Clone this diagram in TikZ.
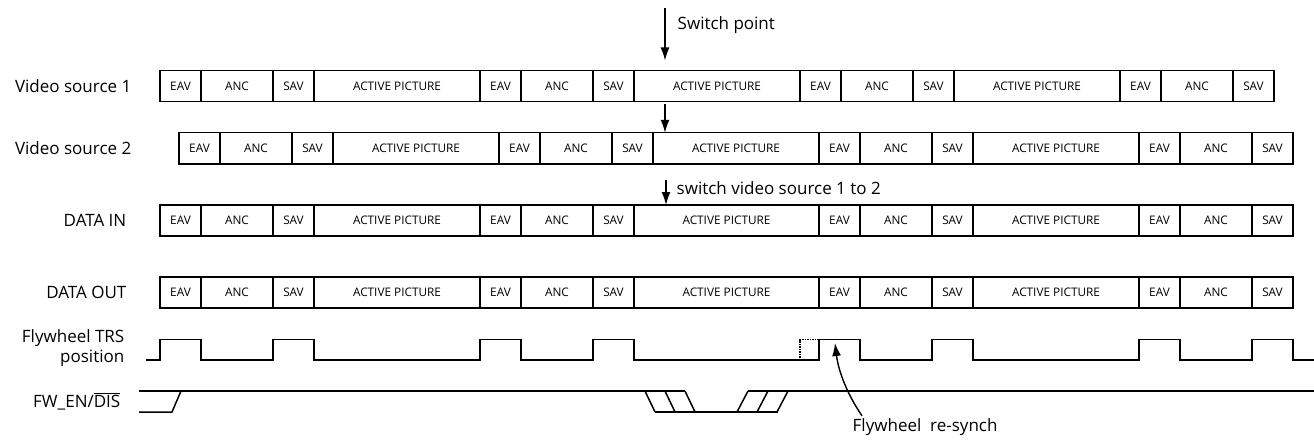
\documentclass[tikz,border=0pt]{standalone}
\usepackage{fontspec}
\setmainfont{Open Sans}
\usetikzlibrary{arrows.meta,positioning}
\tikzset{
    seg/.style={draw, rectangle, minimum height=31pt, inner sep=0pt, outer sep=0pt, font=\fontsize{11.8}{13}\selectfont},
    lbl/.style={inner sep=0pt, font=\fontsize{17}{20.5}\selectfont},
    arr/.style={-{Latex[length=13pt,width=9pt]}},
    sig/.style={line width=1.5pt}
}
% one row of the video stream: name, start, list of text/width
\newcommand{\framerow}[3]{%
  \coordinate (#1-0) at #2;
  \foreach \txt/\w [count=\i] in {#3}{%
    \pgfmathtruncatemacro\j{\i-1}%
    \node[seg, minimum width=\w pt, right=0pt of #1-\j] (#1-\i) {\txt};
  }%
}
\newcommand{\ovl}[1]{$\overline{\hbox{#1}}$}
\begin{document}
\begin{tikzpicture}[x=1pt, y=-1pt, line width=1.4pt]
    \useasboundingbox (0,0) rectangle (1314,441);

    \framerow{v1}{(160,86)}{EAV/41,ANC/72,SAV/41,ACTIVE PICTURE/166,EAV/41,ANC/72,SAV/41,ACTIVE PICTURE/166,EAV/41,ANC/72,SAV/41,ACTIVE PICTURE/166,EAV/41,ANC/72,SAV/41}
    \framerow{v2}{(179,148.3)}{EAV/41,ANC/72,SAV/41,ACTIVE PICTURE/166,EAV/41,ANC/72,SAV/41,ACTIVE PICTURE/166,EAV/41,ANC/72,SAV/41,ACTIVE PICTURE/166,EAV/41,ANC/72,SAV/41}
    \framerow{din}{(160,220.5)}{EAV/41,ANC/72,SAV/41,ACTIVE PICTURE/166,EAV/41,ANC/72,SAV/41,ACTIVE PICTURE/185,EAV/41,ANC/72,SAV/41,ACTIVE PICTURE/166,EAV/41,ANC/72,SAV/41}
    \framerow{dout}{(160,292.3)}{EAV/41,ANC/72,SAV/41,ACTIVE PICTURE/166,EAV/41,ANC/72,SAV/41,ACTIVE PICTURE/185,EAV/41,ANC/72,SAV/41,ACTIVE PICTURE/166,EAV/41,ANC/72,SAV/41}

    % labels
    \node[lbl, left=28pt of v1-0] (lv1) {Video source 1};
    \node[lbl, left=47pt of v2-0] (lv2) {Video source 2};
    \node[lbl, left=33pt of din-0] (ldin) {DATA IN};
    \node[lbl, left=33pt of dout-0] (ldout) {DATA OUT};
    \node[lbl, align=right, anchor=east] (ltrs) at (125,348) {Flywheel TRS\\position};
    \node[lbl, anchor=base east] (lfw) at (121,407) {FW\_EN/\ovl{DIS}};

    % switch point
    \node[lbl, anchor=base west] (swpt) at (677,30) {Switch point};
    \coordinate (swtop) at (665,8);
    \draw[arr, shorten >=10pt] (swtop) -- (swtop |- v1-8.north);
    \draw[arr, shorten <=3pt] (swtop |- v1-8.south) -- (swtop |- v2-8.north);
    \node[lbl, anchor=base west] (swin) at (676,194) {switch video source 1 to 2};
    \coordinate (swdin) at (666,180);
    \draw[arr] (swdin) -- (swdin |- din-8.north);

    % flywheel TRS position
    \coordinate (hi) at (0,339.5);
    \coordinate (lo) at (0,360);
    \draw[sig] (146,360) foreach \k in {1,3,5,7,9,11,13,15}{
        -- (dout-\k.west |- lo) -- (dout-\k.west |- hi) -- (dout-\k.east |- hi) -- (dout-\k.east |- lo)} -- (1314,360);
    \draw[sig, densely dotted] (v1-9.west |- lo) -- (v1-9.west |- hi) -- (dout-9.west |- hi);

    % FW_EN/DIS
    \draw[sig] (139,412) -- (172,412) -- (181,391);
    \draw[sig] (139,391) -- (685,391);
    \draw[sig] (655,412) -- (778,412);
    \foreach \d in {0,20,40}{
        \draw[sig] (645+\d,391) -- (655+\d,412);
        \draw[sig] (737+\d,412) -- (748+\d,391);
    }
    \draw[sig] (748,391) -- (1314,391);

    % re-synch
    \node[lbl, anchor=base west] (rsync) at (852,431.5) {Flywheel\ \ re-synch};
    \coordinate (rstip) at (835,343);
    \draw[arr] ([xshift=10pt,yshift=2pt]rsync.north west) .. controls +(-17,-25) and +(3,25) .. (rstip);
\end{tikzpicture}
\end{document}
